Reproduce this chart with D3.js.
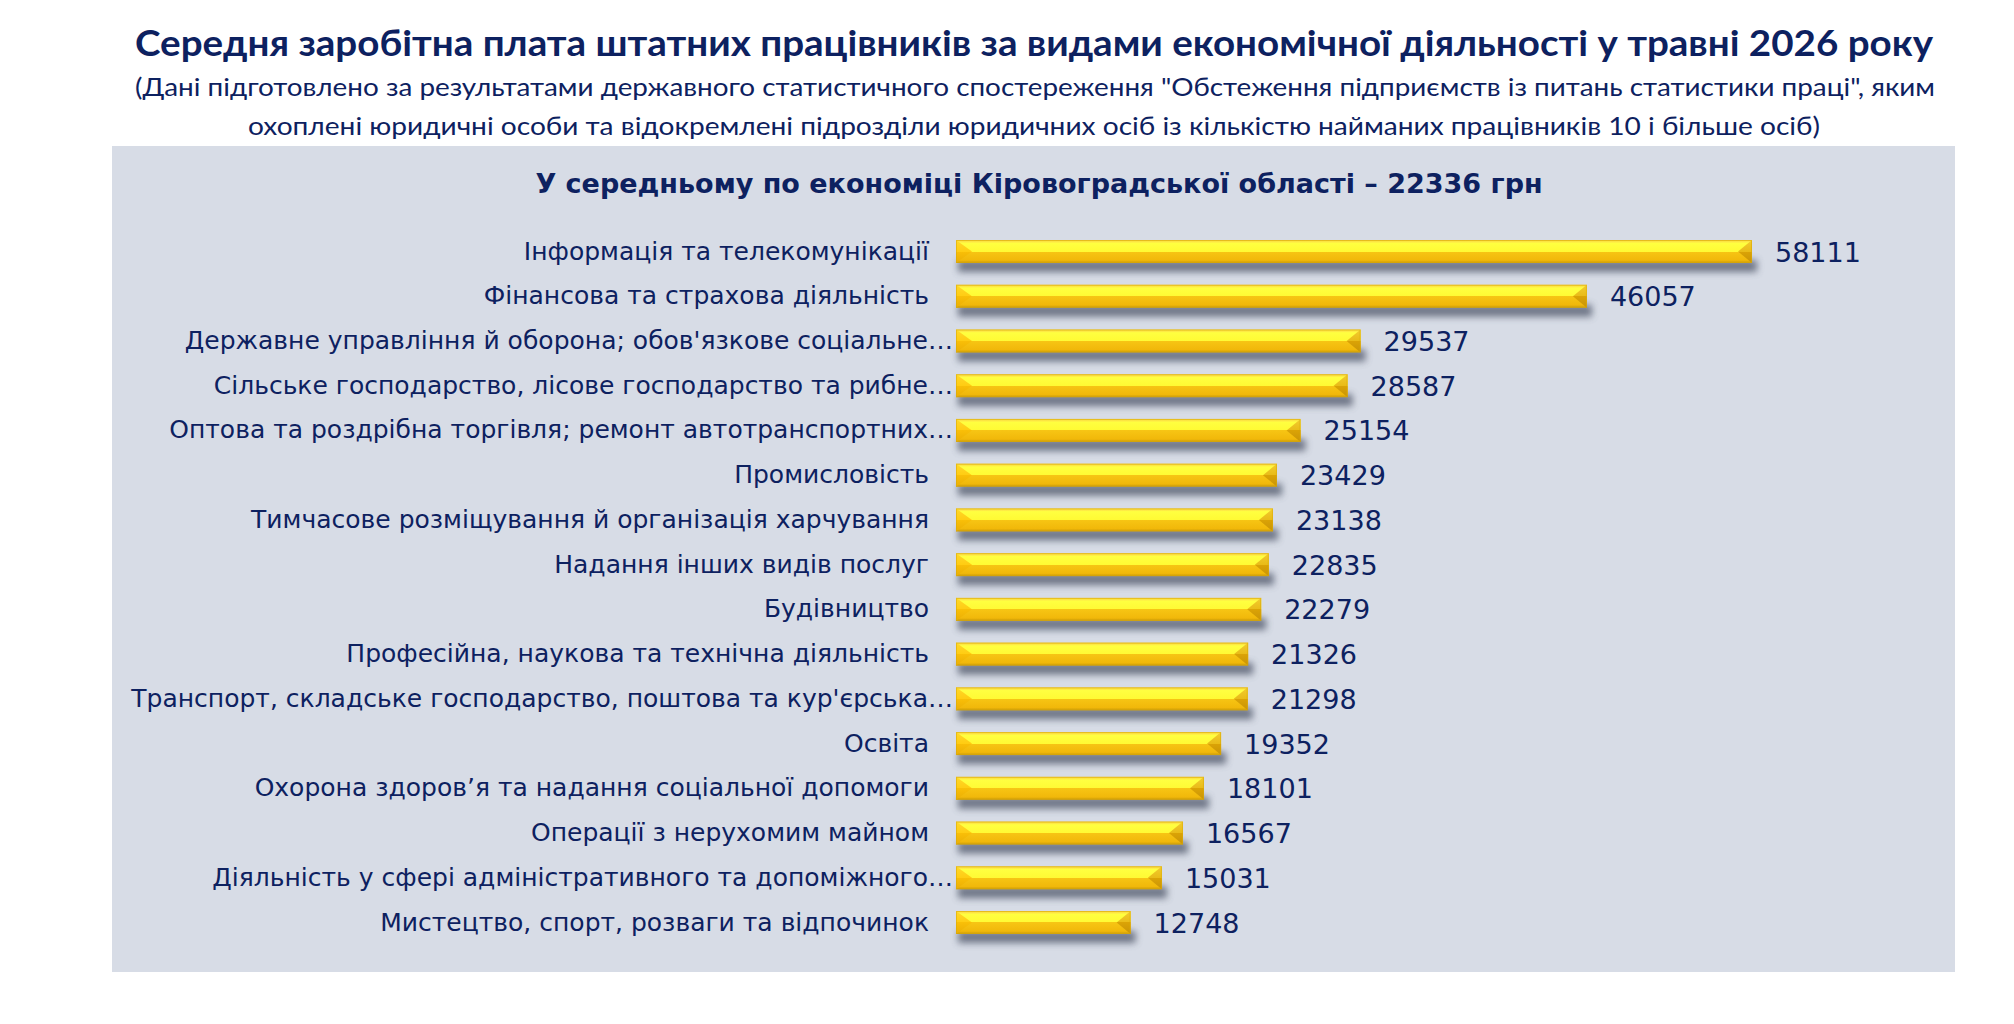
<!DOCTYPE html>
<html>
<head>
<meta charset="utf-8">
<script src="https://d3js.org/d3.v7.min.js"></script>
<style>
  body { margin: 0; background: #fff; }
</style>
</head>
<body>
<div id="chart"></div>
<script>
// Data: average wage by economic activity, Kirovohrad oblast, May 2026
const categories = [
  "Інформація та телекомунікації",
  "Фінансова та страхова діяльність",
  "Державне управління й оборона; обов'язкове соціальне…",
  "Сільське господарство, лісове господарство та рибне…",
  "Оптова та роздрібна торгівля; ремонт автотранспортних…",
  "Промисловість",
  "Тимчасове розміщування й організація харчування",
  "Надання інших видів послуг",
  "Будівництво",
  "Професійна, наукова та технічна діяльність",
  "Транспорт, складське господарство, поштова та кур'єрська…",
  "Освіта",
  "Охорона здоров’я та надання соціальної допомоги",
  "Операції з нерухомим майном",
  "Діяльність у сфері адміністративного та допоміжного…",
  "Мистецтво, спорт, розваги та відпочинок"
];
const wages = [58111, 46057, 29537, 28587, 25154, 23429, 23138, 22835, 22279, 21326, 21298, 19352, 18101, 16567, 15031, 12748];

const titleText = "Середня заробітна плата штатних працівників за видами економічної діяльності у травні 2026 року";
const subtitleLines = [
  "(Дані підготовлено за результатами державного статистичного спостереження \"Обстеження підприємств із питань статистики праці\", яким",
  "охоплені юридичні особи та відокремлені підрозділи юридичних осіб із кількістю найманих працівників 10 і більше осіб)"
];
const averageText = "У середньому по економіці Кіровоградської області – 22336 грн";

const width = 2014;
const height = 1024;
const navy = "#0d2160";

const svg = d3.select("#chart")
  .append("svg")
  .attr("width", width)
  .attr("height", height);

const defs = svg.append("defs");

// face gradient of the bevelled bar
const face = defs.append("linearGradient")
  .attr("id", "face").attr("x1", 0).attr("y1", 0).attr("x2", 0).attr("y2", 1);
[
  [0, "#f7d23a"], [0.1, "#ffee45"], [0.14, "#ffff40"], [0.5, "#fffa34"],
  [0.5, "#f7c514"], [0.88, "#f1b80a"], [1, "#c99a08"]
].forEach(([o, c]) => face.append("stop").attr("offset", o).attr("stop-color", c));

const leftBevel = defs.append("linearGradient")
  .attr("id", "leftBevel").attr("x1", 0).attr("y1", 0).attr("x2", 0).attr("y2", 1);
[[0, "#ffd82a"], [0.5, "#ffcc12"], [0.5, "#f9bf08"], [1, "#eaae04"]]
  .forEach(([o, c]) => leftBevel.append("stop").attr("offset", o).attr("stop-color", c));

const rightBevel = defs.append("linearGradient")
  .attr("id", "rightBevel").attr("x1", 0).attr("y1", 0).attr("x2", 0).attr("y2", 1);
[[0, "#f2cc30"], [0.5, "#e9bb18"], [0.5, "#dba306"], [1, "#c89406"]]
  .forEach(([o, c]) => rightBevel.append("stop").attr("offset", o).attr("stop-color", c));

defs.append("filter").attr("id", "blur")
  .attr("x", "-10%").attr("y", "-100%").attr("width", "120%").attr("height", "300%")
  .append("feGaussianBlur").attr("stdDeviation", 3.5);

// title block
svg.append("text")
  .attr("x", 135).attr("y", 56)
  .attr("textLength", 1798).attr("lengthAdjust", "spacingAndGlyphs")
  .style("font-family", "Lato, 'Open Sans', sans-serif")
  .style("font-weight", "bold")
  .style("font-size", "36px")
  .style("fill", navy)
  .text(titleText);

svg.selectAll(".subtitle")
  .data(subtitleLines)
  .enter()
  .append("text")
  .attr("class", "subtitle")
  .attr("x", (d, i) => i === 0 ? 135 : 248)
  .attr("y", (d, i) => 96 + i * 39)
  .attr("textLength", (d, i) => i === 0 ? 1800 : 1572)
  .attr("lengthAdjust", "spacingAndGlyphs")
  .style("font-family", "Lato, 'Open Sans', sans-serif")
  .style("font-size", "25px")
  .style("fill", navy)
  .text(d => d);

// panel
svg.append("rect")
  .attr("x", 112).attr("y", 146)
  .attr("width", 1843).attr("height", 826)
  .attr("fill", "#d7dce6");

svg.append("text")
  .attr("x", 1039).attr("y", 193)
  .attr("text-anchor", "middle")
  .style("font-family", "'DejaVu Sans', Verdana, sans-serif")
  .style("font-weight", "bold")
  .style("font-size", "27px")
  .style("fill", navy)
  .text(averageText);

// scales
const x = d3.scaleLinear()
  .domain([0, d3.max(wages)])
  .range([956, 1752]);

const y = d3.scalePoint()
  .domain(categories)
  .range([251.5, 922.5]);

const barH = 23;
const rows = categories.map((c, i) => ({ name: c, value: wages[i] }));

const row = svg.selectAll(".row")
  .data(rows)
  .enter()
  .append("g")
  .attr("class", "row");

// shadow under the bar
row.append("rect")
  .attr("x", x(0) + 2)
  .attr("y", d => y(d.name) + barH / 2 - 3)
  .attr("width", d => x(d.value) - x(0) + 3)
  .attr("height", 12)
  .attr("fill", "#4d5568")
  .attr("opacity", 0.75)
  .attr("filter", "url(#blur)");

row.append("rect")
  .attr("x", x(0))
  .attr("y", d => y(d.name) - barH / 2)
  .attr("width", d => x(d.value) - x(0))
  .attr("height", barH)
  .attr("fill", "url(#face)");

row.append("path")
  .attr("d", d => {
    const x0 = x(0), t = y(d.name) - barH / 2;
    return `M${x0},${t}L${x0 + 16},${t + barH / 2}L${x0},${t + barH}Z`;
  })
  .attr("fill", "url(#leftBevel)");

row.append("path")
  .attr("d", d => {
    const x1 = x(d.value), t = y(d.name) - barH / 2;
    return `M${x1},${t}L${x1 - 14},${t + barH / 2}L${x1},${t + barH}Z`;
  })
  .attr("fill", "url(#rightBevel)");

row.append("rect")
  .attr("x", x(0) + 0.5)
  .attr("y", d => y(d.name) - barH / 2 + 0.5)
  .attr("width", d => x(d.value) - x(0) - 1)
  .attr("height", barH - 1)
  .attr("fill", "none")
  .attr("stroke", "#d9a908")
  .attr("stroke-opacity", 0.6);

// category labels (truncated ones run a little further right)
row.append("text")
  .attr("x", d => d.name.endsWith("…") ? 953 : 929)
  .attr("y", d => y(d.name) + 8)
  .attr("text-anchor", "end")
  .style("font-family", "'DejaVu Sans', Verdana, sans-serif")
  .style("font-size", "25px")
  .style("fill", navy)
  .text(d => d.name);

// value labels
row.append("text")
  .attr("x", d => x(d.value) + 23)
  .attr("y", d => y(d.name) + 10)
  .style("font-family", "'DejaVu Sans', Verdana, sans-serif")
  .style("font-size", "27px")
  .style("fill", navy)
  .text(d => d.value);
</script>
</body>
</html>
